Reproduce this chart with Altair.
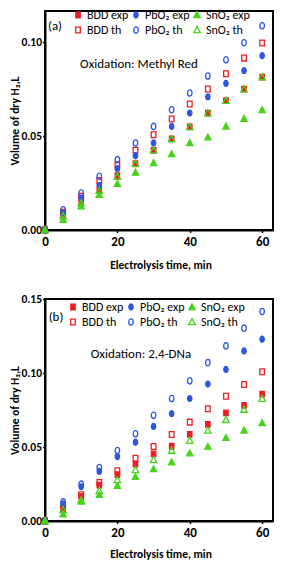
import altair as alt
import pandas as pd

time_min = [0, 5, 10, 15, 20, 25, 30, 35, 40, 45, 50, 55, 60]
draw_order = ["BDD exp", "BDD th", "PbO₂ exp", "PbO₂ th", "SnO₂ exp", "SnO₂ th"]

# Panel (a): Oxidation of Methyl Red
a_bdd_exp = [0, 0.0075, 0.0144, 0.0215, 0.0290, 0.0353, 0.0425, 0.0485, 0.0549, 0.0623, 0.0689, 0.0751, 0.0815]
a_bdd_th = [0, 0.0095, 0.0180, 0.0263, 0.0348, 0.0425, 0.0508, 0.0591, 0.0671, 0.0751, 0.0833, 0.0916, 0.0996]
a_pbo2_exp = [0, 0.0090, 0.0170, 0.0238, 0.0327, 0.0396, 0.0464, 0.0552, 0.0623, 0.0709, 0.0781, 0.0849, 0.0929]
a_pbo2_th = [0, 0.0108, 0.0197, 0.0286, 0.0375, 0.0464, 0.0552, 0.0641, 0.0730, 0.0820, 0.0907, 0.0998, 0.1088]
a_sno2_exp = [0, 0.0055, 0.0126, 0.0188, 0.0247, 0.0307, 0.0357, 0.0405, 0.0464, 0.0494, 0.0552, 0.0593, 0.0640]
a_sno2_th = [0, 0.0075, 0.0144, 0.0210, 0.0285, 0.0353, 0.0425, 0.0485, 0.0549, 0.0623, 0.0689, 0.0751, 0.0815]

# Panel (b): Oxidation of 2,4-DNa
b_bdd_exp = [0, 0.0080, 0.0165, 0.0243, 0.0313, 0.0385, 0.0453, 0.0505, 0.0585, 0.0653, 0.0730, 0.0782, 0.0857]
b_bdd_th = [0, 0.0086, 0.0177, 0.0260, 0.0340, 0.0424, 0.0503, 0.0585, 0.0668, 0.0759, 0.0843, 0.0922, 0.1008]
b_pbo2_exp = [0, 0.0115, 0.0231, 0.0335, 0.0435, 0.0532, 0.0639, 0.0725, 0.0827, 0.0925, 0.1024, 0.1149, 0.1228]
b_pbo2_th = [0, 0.0129, 0.0249, 0.0362, 0.0476, 0.0589, 0.0714, 0.0827, 0.0947, 0.1070, 0.1183, 0.1303, 0.1416]
b_sno2_exp = [0, 0.0045, 0.0132, 0.0177, 0.0238, 0.0299, 0.0351, 0.0397, 0.0458, 0.0503, 0.0562, 0.0612, 0.0662]
b_sno2_th = [0, 0.0075, 0.0141, 0.0204, 0.0277, 0.0345, 0.0413, 0.0476, 0.0544, 0.0612, 0.0684, 0.0753, 0.0827]

panel_tags = ["(a)", "(b)"]
panel_notes = ["Oxidation: Methyl Red", "Oxidation: 2,4-DNa"]
x_title = ["Electrolysis time, min"]
x_ticks = [0, 20, 40, 60]
a_y_ticks = [0.0, 0.05, 0.10]
b_y_ticks = [0.0, 0.05, 0.10, 0.15]

RED = "#f01c24"
BLUE = "#2b57e3"
GREEN = "#45d41a"
FONT = "Carlito, Calibri, Lato, sans-serif"

SQ = "M-0.8,-1L0.8,-1L0.8,1L-0.8,1Z"
EL = "M-0.72,0A0.72,1,0,1,0,0.72,0A0.72,1,0,1,0,-0.72,0Z"
TR = "M0,-1L0.95,0.8L-0.95,0.8Z"

# legend fills column by column: order matches draw order
fill_range = [RED, "transparent", BLUE, "transparent", GREEN, "transparent"]
stroke_range = [RED, RED, BLUE, BLUE, GREEN, GREEN]
shape_range = [SQ, SQ, EL, EL, TR, TR]
size_range = [30, 46, 26, 42, 30, 50]

PLOT_W = 228
X_MAX = 63.0


def long_frame(cols):
    rows = []
    for name, vals in zip(draw_order, cols):
        for t, v in zip(time_min, vals):
            rows.append({"time": t, "vol": v, "series": name})
    return pd.DataFrame(rows)


def label(text, x, y, size=13, weight="normal"):
    return alt.Chart(pd.DataFrame({"t": [text]})).mark_text(
        font=FONT, fontSize=size, fontWeight=weight, color="black",
        align="center", baseline="middle"
    ).encode(text="t:N", x=alt.value(x), y=alt.value(y))


def panel(df, ymax, yticks, height, tag, note, leg_xy, tag_xy, note_xy, xtitle_y):
    leg = alt.Legend(orient="none", legendX=leg_xy[0], legendY=leg_xy[1], columns=3,
                     title=None, labelFont=FONT, labelFontSize=12, labelColor="black",
                     columnPadding=1, rowPadding=3, labelOffset=3, padding=0,
                     symbolStrokeWidth=1.3, symbolOpacity=1)
    pts = alt.Chart(df).mark_point(opacity=1, strokeWidth=1.3).encode(
        x=alt.X("time:Q", scale=alt.Scale(domain=[0, X_MAX], nice=False, zero=False),
                axis=alt.Axis(values=x_ticks, format="d", title=None)),
        y=alt.Y("vol:Q", scale=alt.Scale(domain=[0, ymax], nice=False),
                axis=alt.Axis(values=yticks, format=".2f", title="Volume of dry H₂,L")),
        fill=alt.Fill("series:N", scale=alt.Scale(domain=draw_order, range=fill_range), legend=leg),
        stroke=alt.Stroke("series:N", scale=alt.Scale(domain=draw_order, range=stroke_range), legend=leg),
        shape=alt.Shape("series:N", scale=alt.Scale(domain=draw_order, range=shape_range), legend=leg),
        size=alt.Size("series:N", scale=alt.Scale(domain=draw_order, range=size_range), legend=leg),
    )
    return alt.layer(
        pts,
        label(tag, tag_xy[0], tag_xy[1]),
        label(note, note_xy[0], note_xy[1]),
        label(x_title[0], 116, xtitle_y, size=11.5, weight="bold"),
    ).properties(width=PLOT_W, height=height)


df_a = long_frame([a_bdd_exp, a_bdd_th, a_pbo2_exp, a_pbo2_th, a_sno2_exp, a_sno2_th])
df_b = long_frame([b_bdd_exp, b_bdd_th, b_pbo2_exp, b_pbo2_th, b_sno2_exp, b_sno2_th])

pa = panel(df_a, 0.1167, a_y_ticks, 219, panel_tags[0], panel_notes[0],
           (27, -2), (10, 15), (94, 53), 255)
pb = panel(df_b, 0.15, b_y_ticks, 222, panel_tags[1], panel_notes[1],
           (22, 2), (11, 18), (96, 55), 256)

chart = alt.vconcat(pa, pb, spacing=19).resolve_scale(
    fill="independent", stroke="independent", shape="independent", size="independent"
).properties(
    padding={"left": 0, "top": 0, "right": 0, "bottom": 0}
).configure_view(
    stroke="black", strokeWidth=2
).configure_axis(
    grid=False, labelFont=FONT, labelFontWeight="bold", labelFontSize=11.5, labelColor="black",
    titleFont=FONT, titleFontWeight="bold", titleFontSize=11.5, titleColor="black",
    domainColor="black", domainWidth=2, tickColor="black", tickSize=2.5, tickWidth=1.5,
    labelFlush=False
).configure_axisX(
    labelPadding=3, labelFontSize=13
).configure_axisY(
    labelPadding=1, titlePadding=0
)

chart.save("out.html", embed_options={"renderer": "svg", "actions": False})
